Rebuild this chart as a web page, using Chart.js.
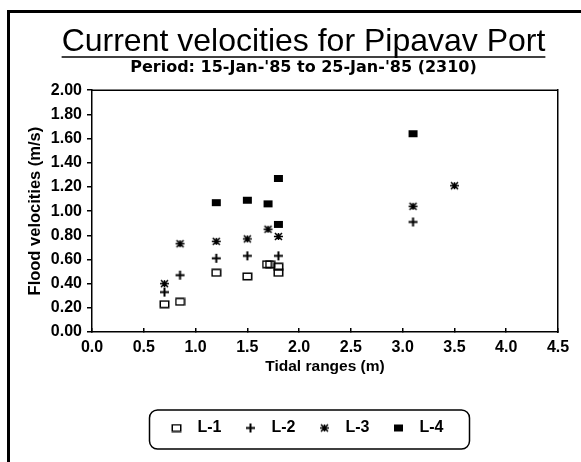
<!DOCTYPE html>
<html>
<head>
<meta charset="utf-8">
<script src="https://cdn.jsdelivr.net/npm/chart.js@4"></script>
<style>
  html, body { margin: 0; padding: 0; background: #fff; }
  canvas { display: block; }
</style>
</head>
<body>
<canvas id="chart" width="581" height="462"></canvas>
<script>
// tidal range (m) and flood velocity (m/s) for each location
const seriesNames = ['L-1', 'L-2', 'L-3', 'L-4'];

const l1Range = [0.7, 0.85, 1.2, 1.5, 1.69, 1.72, 1.8, 1.8];
const l1Velocity = [0.23, 0.25, 0.49, 0.46, 0.56, 0.56, 0.54, 0.49];

const l2Range = [0.7, 0.85, 1.2, 1.5, 1.8, 3.1];
const l2Velocity = [0.33, 0.47, 0.61, 0.63, 0.63, 0.91];

const l3Range = [0.7, 0.85, 1.2, 1.5, 1.7, 1.8, 3.1, 3.5];
const l3Velocity = [0.40, 0.73, 0.75, 0.77, 0.85, 0.79, 1.04, 1.21];

const l4Range = [1.2, 1.5, 1.7, 1.8, 1.8, 3.1];
const l4Velocity = [1.07, 1.09, 1.06, 1.27, 0.89, 1.64];

const xTicks = [0, 0.5, 1, 1.5, 2, 2.5, 3, 3.5, 4, 4.5];
const yTicks = [0, 0.2, 0.4, 0.6, 0.8, 1, 1.2, 1.4, 1.6, 1.8, 2];

const FONT = "'Liberation Sans', Arial, sans-serif";
const WIDE_FONT = "'DejaVu Sans', sans-serif";

const makeMarker = function drawMarkerOnSmallCanvas(w, h, draw) {
  const c = document.createElement('canvas');
  c.width = w;
  c.height = h;
  const g = c.getContext('2d');
  g.strokeStyle = '#000';
  g.fillStyle = '#000';
  draw(g);
  return c;
};

const openSquare = makeMarker(11, 9, (g) => {
  g.lineWidth = 1.5;
  g.strokeRect(1.25, 1.25, 8.5, 6.5);
});
const plusSign = makeMarker(11, 11, (g) => {
  g.lineWidth = 2;
  g.beginPath();
  g.moveTo(1, 5.5); g.lineTo(10, 5.5);
  g.moveTo(5.5, 1); g.lineTo(5.5, 10);
  g.stroke();
});
const asterisk = makeMarker(11, 11, (g) => {
  g.lineWidth = 1.5;
  g.beginPath();
  g.moveTo(1, 5.5); g.lineTo(10, 5.5);
  g.moveTo(2, 2); g.lineTo(9, 9);
  g.moveTo(9, 2); g.lineTo(2, 9);
  g.moveTo(5.5, 2); g.lineTo(5.5, 9);
  g.stroke();
});
const filledSquare = makeMarker(11, 9, (g) => {
  g.fillRect(1, 1, 9, 7);
});

const toPoints = (xs, ys) => xs.map((x, i) => ({ x, y: ys[i] }));

const markers = [openSquare, plusSign, asterisk, filledSquare];
const ranges = [l1Range, l2Range, l3Range, l4Range];
const velocities = [l1Velocity, l2Velocity, l3Velocity, l4Velocity];

const datasets = seriesNames.map((name, i) => ({
  label: name,
  data: toPoints(ranges[i], velocities[i]),
  pointStyle: markers[i],
  pointRadius: 5,
  showLine: false,
  backgroundColor: '#000',
  borderColor: '#000',
}));

// page frame, plot box, title underline and legend box
const decorations = {
  id: 'decorations',
  beforeDraw(chart) {
    const { ctx } = chart;
    ctx.save();
    ctx.fillStyle = '#fff';
    ctx.fillRect(0, 0, chart.width, chart.height);
    ctx.strokeStyle = '#000';
    ctx.lineWidth = 3;
    ctx.beginPath();
    ctx.moveTo(8.5, chart.height);
    ctx.lineTo(8.5, 11.5);
    ctx.lineTo(chart.width, 11.5);
    ctx.stroke();
    ctx.restore();
  },
  afterDraw(chart) {
    const { ctx, chartArea } = chart;
    ctx.save();
    ctx.strokeStyle = '#000';
    ctx.lineWidth = 1.5;
    ctx.beginPath();
    ctx.moveTo(chartArea.left, chartArea.top);
    ctx.lineTo(chartArea.right, chartArea.top);
    ctx.stroke();

    const title = chart.titleBlock;
    ctx.font = `32px ${FONT}`;
    const tw = ctx.measureText(title.options.text).width;
    const cx = (title.left + title.right) / 2;
    ctx.beginPath();
    ctx.moveTo(cx - tw / 2, title.bottom - 1);
    ctx.lineTo(cx + tw / 2, title.bottom - 1);
    ctx.stroke();

    const boxes = chart.legend.legendHitBoxes;
    if (boxes && boxes.length) {
      const left = boxes[0].left - 14;
      const last = boxes[boxes.length - 1];
      const right = last.left + last.width + 26;
      const mid = boxes[0].top + boxes[0].height / 2;
      ctx.beginPath();
      ctx.roundRect(left, mid - 18, right - left, 39, 8);
      ctx.stroke();
    }
    ctx.restore();
  },
};

const tickFont = { family: FONT, size: 16, weight: 'bold' };

new Chart(document.getElementById('chart'), {
  type: 'scatter',
  data: { datasets },
  plugins: [decorations],
  options: {
    responsive: false,
    animation: false,
    events: [],
    layout: { padding: { left: 26, right: 0, top: 15, bottom: 16 } },
    plugins: {
      title: {
        display: true,
        text: 'Current velocities for Pipavav Port',
        color: '#000',
        font: { family: FONT, size: 32, weight: 'normal', lineHeight: 1 },
        padding: { top: 11, bottom: 0 },
      },
      subtitle: {
        display: true,
        text: "Period: 15-Jan-'85 to 25-Jan-'85 (2310)",
        color: '#000',
        font: { family: WIDE_FONT, size: 16, weight: 'bold' },
        padding: { top: 0, bottom: 13 },
      },
      legend: {
        position: 'bottom',
        labels: {
          usePointStyle: true,
          pointStyleWidth: 26,
          padding: 16,
          color: '#000',
          font: { family: FONT, size: 16, weight: 'bold' },
        },
      },
      tooltip: { enabled: false },
    },
    scales: {
      x: {
        type: 'linear',
        position: 'bottom',
        min: xTicks[0],
        max: xTicks[xTicks.length - 1],
        afterBuildTicks: (s) => { s.ticks = xTicks.map((v) => ({ value: v })); },
        afterFit: (s) => { s.height = 72; },
        ticks: {
          color: '#000',
          font: tickFont,
          padding: 10,
          maxRotation: 0,
          callback: (v) => Number(v).toFixed(1),
        },
        grid: { drawOnChartArea: false, tickLength: -4, color: '#000', lineWidth: 1.5 },
        border: { color: '#000', width: 1.5 },
        title: {
          display: true,
          text: 'Tidal ranges (m)',
          color: '#000',
          font: { family: FONT, size: 15.5, weight: 'bold' },
          padding: { top: 0, bottom: 28 },
        },
      },
      y: {
        type: 'linear',
        position: 'left',
        min: yTicks[0],
        max: yTicks[yTicks.length - 1],
        afterBuildTicks: (s) => { s.ticks = yTicks.map((v) => ({ value: v })); },
        afterFit: (s) => { s.width = 66; },
        ticks: {
          color: '#000',
          font: tickFont,
          padding: 5,
          callback: (v) => Number(v).toFixed(2),
        },
        grid: { drawOnChartArea: false, tickLength: 5, color: '#000', lineWidth: 1.5 },
        border: { color: '#000', width: 1.5 },
        title: {
          display: true,
          text: 'Flood velocities (m/s)',
          color: '#000',
          font: { family: FONT, size: 16.5, weight: 'bold' },
          padding: 0,
        },
      },
      yRight: {
        type: 'linear',
        position: 'right',
        afterFit: (s) => { s.width = 23; },
        ticks: { display: false },
        grid: { display: false },
        border: { color: '#000', width: 1.5 },
      },
    },
  },
});
</script>
</body>
</html>
